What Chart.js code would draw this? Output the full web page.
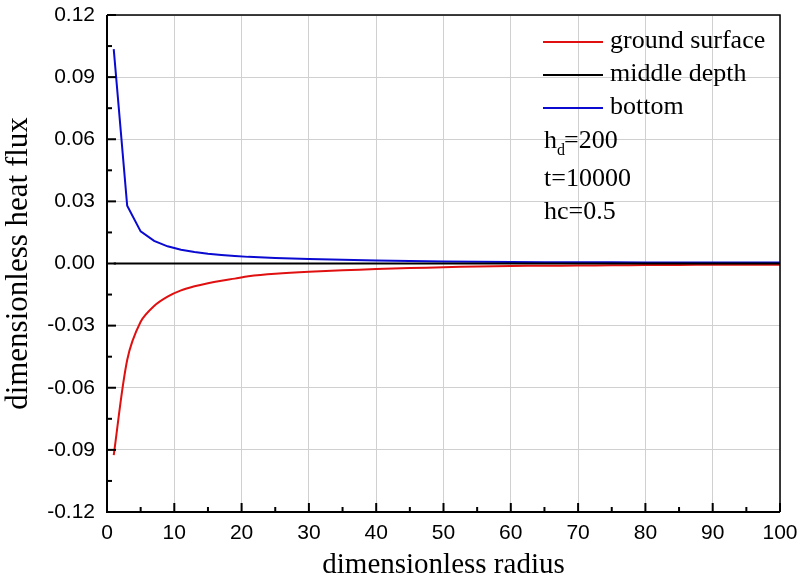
<!DOCTYPE html>
<html>
<head>
<meta charset="utf-8">
<script src="https://cdn.jsdelivr.net/npm/chart.js@4.4.1/dist/chart.umd.min.js"></script>
<style>
html,body{margin:0;padding:0;background:#fff;}
#wrap{width:800px;height:583px;position:relative;}
</style>
</head>
<body>
<div id="wrap"><canvas id="c" width="800" height="583"></canvas></div>
<script>
// ---- data ----
const radius = [1,3,5,7,9,11,13,15,17,19,21,25,30,35,40,45,50,55,60,65,70,75,80,85,90,95,100];
const groundSurface = [-0.0925,-0.0466,-0.0281,-0.0205,-0.0160,-0.0130,-0.0110,-0.0095,-0.0083,-0.0073,-0.0062,-0.0050,-0.0040,-0.0033,-0.0027,-0.0022,-0.0018,-0.0014,-0.0012,-0.0011,-0.0010,-0.0009,-0.0007,-0.0007,-0.0006,-0.0006,-0.0006];
const bottom = [0.1035,0.0279,0.0155,0.0109,0.0083,0.0066,0.0055,0.0047,0.0041,0.0036,0.0032,0.0027,0.0022,0.0018,0.0014,0.0012,0.0010,0.0009,0.0007,0.0006,0.0006,0.0006,0.0005,0.0005,0.0005,0.0005,0.0005];
const middleRadius = [1,100];
const middleDepth = [0,0];
const xTicks = [0,10,20,30,40,50,60,70,80,90,100];
const xMinorTicks = [5,15,25,35,45,55,65,75,85,95];
const yTicks = [-0.12,-0.09,-0.06,-0.03,0,0.03,0.06,0.09,0.12];
const yMinorTicks = [-0.105,-0.075,-0.045,-0.015,0.015,0.045,0.075,0.105];
const seriesNames = ['ground surface','middle depth','bottom'];
const seriesColors = ['#e01010','#000000','#0a0ad0'];
const infoLines = [['h','d','=200'],['t=10000'],['hc=0.5']];

const pts = (xs, ys) => xs.map((x,i)=>({x:x,y:ys[i]}));

const framePlugin = {
  id:'frame',
  afterDatasetsDraw(chart){
    const {ctx, chartArea:a, scales:{x,y}} = chart;
    ctx.save();
    ctx.strokeStyle='#000';
    ctx.lineWidth=2;
    xTicks.forEach(v=>{const px=x.getPixelForValue(v);ctx.beginPath();ctx.moveTo(px,a.bottom);ctx.lineTo(px,a.bottom-9);ctx.stroke();});
    xMinorTicks.forEach(v=>{const px=x.getPixelForValue(v);ctx.beginPath();ctx.moveTo(px,a.bottom);ctx.lineTo(px,a.bottom-5);ctx.stroke();});
    yTicks.forEach(v=>{const py=y.getPixelForValue(v);ctx.beginPath();ctx.moveTo(a.left,py);ctx.lineTo(a.left+9,py);ctx.stroke();});
    yMinorTicks.forEach(v=>{const py=y.getPixelForValue(v);ctx.beginPath();ctx.moveTo(a.left,py);ctx.lineTo(a.left+5,py);ctx.stroke();});
    ctx.lineWidth=2;
    ctx.beginPath();
    ctx.moveTo(a.left,a.top);ctx.lineTo(a.left,a.bottom);ctx.lineTo(a.right,a.bottom);
    ctx.stroke();
    ctx.lineWidth=1.5;
    ctx.beginPath();
    ctx.moveTo(a.left,a.top);ctx.lineTo(a.right,a.top);ctx.lineTo(a.right,a.bottom);
    ctx.stroke();
    // legend
    const lx0=543, lx1=603, tx=610;
    const rows=[42,75,108];
    const serif='"Liberation Serif", "Times New Roman", serif';
    ctx.font='26px '+serif;
    ctx.textBaseline='middle';
    ctx.fillStyle='#000';
    seriesNames.forEach((n,i)=>{
      ctx.strokeStyle=seriesColors[i];ctx.lineWidth=2;
      ctx.beginPath();ctx.moveTo(lx0,rows[i]);ctx.lineTo(lx1,rows[i]);ctx.stroke();
      ctx.fillText(n,tx,rows[i]-1);
    });
    const iy=[141,179,212];
    const ix=544;
    infoLines.forEach((parts,i)=>{
      if(parts.length===3){
        ctx.font='26px '+serif;
        ctx.fillText(parts[0],ix,iy[i]);
        let w=ctx.measureText(parts[0]).width;
        ctx.font='16px '+serif;
        ctx.fillText(parts[1],ix+w,iy[i]+10);
        let w2=ctx.measureText(parts[1]).width;
        ctx.font='26px '+serif;
        ctx.fillText(parts[2],ix+w+w2-1,iy[i]);
      } else {
        ctx.font='26px '+serif;
        ctx.fillText(parts[0],ix,iy[i]);
      }
    });
    ctx.restore();
  }
};

new Chart(document.getElementById('c'),{
  type:'line',
  data:{
    datasets:[
      {label:seriesNames[0],data:pts(radius,groundSurface),borderColor:seriesColors[0],borderWidth:2,pointRadius:0,tension:0.3,order:2},
      {label:seriesNames[1],data:pts(middleRadius,middleDepth),borderColor:seriesColors[1],borderWidth:2,pointRadius:0,order:1},
      {label:seriesNames[2],data:pts(radius,bottom),borderColor:seriesColors[2],borderWidth:2,pointRadius:0,tension:0,order:3}
    ]
  },
  options:{
    responsive:false,
    animation:false,
    layout:{padding:{left:0,right:20,top:15,bottom:0}},
    plugins:{legend:{display:false},tooltip:{enabled:false}},
    scales:{
      x:{
        type:'linear',min:0,max:100,
        afterBuildTicks(s){s.ticks=xTicks.map(v=>({value:v}));},
        afterFit(s){s.height=71;s.paddingLeft=0;s.paddingRight=0;},
        grid:{color:'#d0d0d0',lineWidth:1,drawTicks:false},
        border:{display:false},
        ticks:{color:'#000',padding:9,maxRotation:0,font:{family:'"Liberation Sans", Arial, sans-serif',size:21},callback:v=>String(v)},
        title:{display:true,text:'dimensionless radius',color:'#000',padding:{top:0,bottom:0},font:{family:'"Liberation Serif", "Times New Roman", serif',size:29}}
      },
      y:{
        type:'linear',min:-0.12,max:0.12,
        afterBuildTicks(s){s.ticks=yTicks.map(v=>({value:v}));},
        afterFit(s){s.width=107;s.paddingTop=0;s.paddingBottom=0;},
        grid:{color:'#d0d0d0',lineWidth:1,drawTicks:false},
        border:{display:false},
        ticks:{color:'#000',padding:12,font:{family:'"Liberation Sans", Arial, sans-serif',size:21},callback:v=>Number(v).toFixed(2)},
        title:{display:true,text:'dimensionless heat flux',color:'#000',padding:{top:0,bottom:2},font:{family:'"Liberation Serif", "Times New Roman", serif',size:31}}
      }
    }
  },
  plugins:[framePlugin]
});
</script>
</body>
</html>
